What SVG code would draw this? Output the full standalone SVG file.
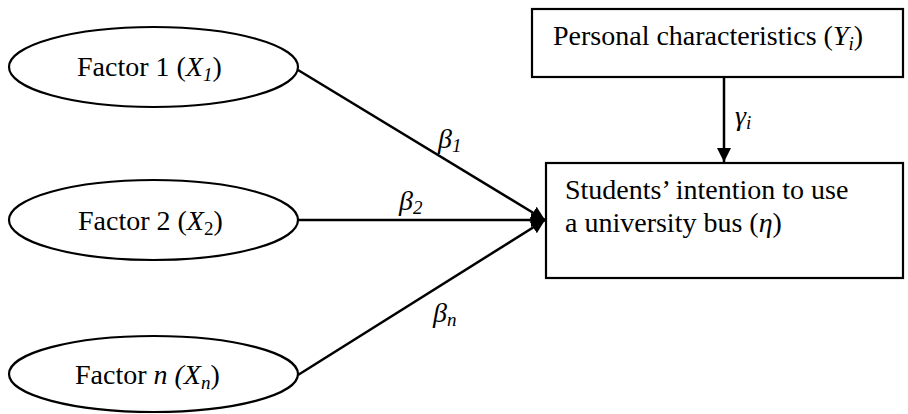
<svg xmlns="http://www.w3.org/2000/svg" width="908" height="414" viewBox="0 0 908 414" font-family="'Liberation Serif', 'Times New Roman', 'DejaVu Serif', serif">
<style>
text{font-family:'Liberation Serif','Times New Roman','DejaVu Serif',serif;font-size:28px;fill:#000}
.i{font-style:italic}
.s{font-size:19px}
.shape{fill:#fff;stroke:#000;stroke-width:2.2}
.c{stroke:#000;stroke-width:2.5;fill:none}
</style>
<defs>
<marker id="ah" markerWidth="16" markerHeight="16" refX="14" refY="7" orient="auto" markerUnits="userSpaceOnUse">
<path d="M0,0 L14,7 L0,14 Z" fill="#000"/>
</marker>
</defs>
<rect width="908" height="414" fill="#fff"/>
<g id="connectors">
<line class="c" x1="298" y1="70" x2="545" y2="220" marker-end="url(#ah)"/>
<line class="c" x1="298" y1="220" x2="545" y2="220" marker-end="url(#ah)"/>
<line class="c" x1="298" y1="375" x2="545" y2="220" marker-end="url(#ah)"/>
<line class="c" x1="724" y1="77" x2="724" y2="162" marker-end="url(#ah)"/>
<text class="i" x="438" y="148">β<tspan class="s" dy="4">1</tspan></text>
<text class="i" x="399" y="210">β<tspan class="s" dy="4">2</tspan></text>
<text class="i" x="433" y="322">β<tspan class="s" dy="4">n</tspan></text>
<text class="i" x="735" y="125">γ<tspan class="s" dy="4">i</tspan></text>
</g>
<g id="factor1">
<ellipse class="shape" cx="153.5" cy="67" rx="144.5" ry="40"/>
<text x="77" y="76">Factor 1 (<tspan class="i">X</tspan><tspan class="s i" dy="5">1</tspan><tspan dy="-5">)</tspan></text>
</g>
<g id="factor2">
<ellipse class="shape" cx="153.5" cy="220" rx="144.5" ry="40"/>
<text x="78" y="230">Factor 2 (<tspan class="i">X</tspan><tspan class="s" dy="5">2</tspan><tspan dy="-5">)</tspan></text>
</g>
<g id="factorn">
<ellipse class="shape" cx="153.5" cy="374" rx="144.5" ry="38"/>
<text x="75" y="384">Factor <tspan class="i">n (X</tspan><tspan class="s i" dy="5">n</tspan><tspan dy="-5">)</tspan></text>
</g>
<g id="personal">
<rect class="shape" x="532" y="9" width="371" height="68"/>
<text x="553" y="45">Personal characteristics (<tspan class="i">Y</tspan><tspan class="s i" dy="5">i</tspan><tspan dy="-5">)</tspan></text>
</g>
<g id="intention">
<rect class="shape" x="546" y="163" width="357" height="115"/>
<text x="565" y="199">Students’ intention to use</text>
<text x="565" y="232">a university bus (<tspan class="i">η</tspan>)</text>
</g>
</svg>
